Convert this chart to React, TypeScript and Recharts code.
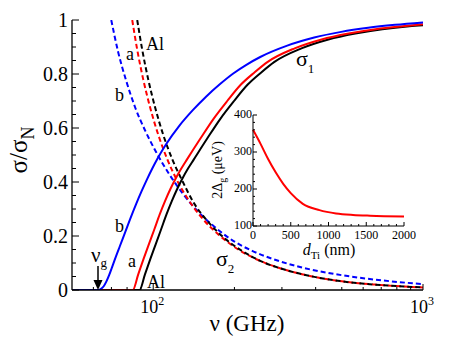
import React from "react";
import { LineChart, Line, XAxis, YAxis } from "recharts";

// sigma_1 / sigma_N (solid), frequency in GHz
const freqS1Al = [50, 89, 93.2, 97.6, 102.2, 107, 112, 117.3, 122.8, 128.6, 134.6, 141.1, 158.3, 177.6, 199.3, 223.6, 250.8, 281.4, 354.3, 446, 561.5, 706.9, 890, 1000];
const sigma1Al = [0, 0, 0.058, 0.115, 0.17, 0.225, 0.28, 0.33, 0.375, 0.415, 0.45, 0.482, 0.56, 0.635, 0.7, 0.76, 0.805, 0.845, 0.895, 0.928, 0.95, 0.966, 0.977, 0.981];

const freqS1A = [50, 84, 88, 92.1, 96.4, 101, 105.7, 110.7, 115.9, 121.4, 127.1, 133.1, 149.4, 167.6, 188.1, 211, 236.8, 265.7, 334.4, 421, 530, 667.2, 840, 1000];
const sigma1A = [0, 0, 0.058, 0.115, 0.17, 0.225, 0.28, 0.33, 0.375, 0.415, 0.45, 0.482, 0.56, 0.635, 0.7, 0.76, 0.805, 0.845, 0.895, 0.928, 0.95, 0.966, 0.977, 0.984];

const freqS1B = [50, 62.6, 64.06, 65.55, 67.08, 68.64, 70.24, 71.87, 75.26, 78.81, 82.52, 86.41, 90.48, 94.74, 99.21, 103.9, 111.3, 124.9, 140.2, 157.3, 176.5, 198, 222.2, 249.3, 313.9, 395.1, 497.4, 626.2, 788.3, 1000];
const sigma1B = [0, 0, 0.004, 0.014, 0.032, 0.055, 0.082, 0.11, 0.163, 0.215, 0.268, 0.318, 0.365, 0.409, 0.45, 0.488, 0.538, 0.608, 0.666, 0.717, 0.762, 0.802, 0.835, 0.863, 0.905, 0.935, 0.956, 0.971, 0.982, 0.991];

// sigma_2 / sigma_N (dashed)
const freqS2Al = [87.24, 91.05, 95.83, 101.72, 108.9, 117.6, 128.1, 141.9, 159.9, 183.2, 213.3, 253, 308.2, 380.9, 492.6, 663.8, 1000];
const sigma2Al = [1, 0.89, 0.78, 0.675, 0.575, 0.485, 0.405, 0.32, 0.252, 0.193, 0.145, 0.105, 0.075, 0.052, 0.033, 0.02, 0.0095];

const freqS2A = [83.6, 87.24, 91.83, 97.47, 104.4, 112.7, 122.7, 135.9, 153.1, 175.6, 206.6, 253, 308.2, 380.9, 492.6, 663.8, 1000];
const sigma2A = [1, 0.89, 0.78, 0.675, 0.575, 0.485, 0.405, 0.33, 0.262, 0.203, 0.15, 0.105, 0.075, 0.052, 0.033, 0.02, 0.0095];

const freqS2B = [69.9, 74.2, 79.4, 85.8, 93.4, 102.6, 113.6, 128.1, 146.8, 168.2, 196, 232.6, 283, 350, 452.3, 609, 820.2, 1000];
const sigma2B = [1, 0.88, 0.775, 0.675, 0.59, 0.51, 0.435, 0.36, 0.29, 0.235, 0.185, 0.145, 0.112, 0.085, 0.062, 0.043, 0.029, 0.022];

// inset: 2*Delta_g (ueV) vs d_Ti (nm)
const dTi = [0, 100, 200, 300, 400, 500, 660, 880, 1100, 1325, 1550, 2000];
const gap2 = [360, 322, 281, 245, 214, 189, 160, 143, 134, 130, 128, 126];

// ticks
const xTicks = [60, 70, 80, 90, 100, 200, 300, 400, 500, 600, 700, 800, 900, 1000];
const xLabels: Record<number, string> = { 100: "2", 1000: "3" };
const yTicks = [0, 0.05, 0.1, 0.15, 0.2, 0.25, 0.3, 0.35, 0.4, 0.45, 0.5, 0.55, 0.6, 0.65, 0.7, 0.75, 0.8, 0.85, 0.9, 0.95, 1];
const yLabels = ["0", "0.2", "0.4", "0.6", "0.8", "1"];
const insetXTicks = [0, 100, 200, 300, 400, 500, 600, 700, 800, 900, 1000, 1100, 1200, 1300, 1400, 1500, 1600, 1700, 1800, 1900, 2000];
const insetXLabels = ["0", "500", "1000", "1500", "2000"];
const insetYTicks = [100, 120, 140, 160, 180, 200, 220, 240, 260, 280, 300, 320, 340, 360, 380, 400];
const insetYLabels = ["100", "200", "300", "400"];

const zip = (xs: number[], ys: number[]) => xs.map((f, i) => ({ f, v: ys[i] }));

const FONT = "'Liberation Serif', 'DejaVu Serif', serif";
const TXT = { fontFamily: FONT };
const BLUE = "#0000ff";
const RED = "#ff0000";
const GREY = "#808080";

// main plot box (page px)
const L = 72, R = 423, T = 20, B = 290;
// inset chart placement and its plot box (local px)
const IX = 200, IY = 100, IW = 220, IH = 170;
const IL = 53, IT = 15, IR = 204, IB = 126;

const yLabel = (v: number) => {
  const s = String(Math.round(v * 10) / 10);
  return Math.abs(v * 5 - Math.round(v * 5)) < 1e-6 && yLabels.includes(s) ? s : null;
};

function BottomTick(props: any) {
  const { x, payload } = props;
  const sup = xLabels[payload.value];
  return (
    <g>
      <line x1={x} x2={x} y1={B} y2={B - (sup ? 6 : 3)} stroke="#000" />
      {sup && (
        <text x={x - 1} y={313} textAnchor="middle" fontSize={18} style={TXT} fill="#000">
          10<tspan fontSize={12} dy={-8}>{sup}</tspan>
        </text>
      )}
    </g>
  );
}

function TopTick(props: any) {
  const { x, payload } = props;
  return <line x1={x} x2={x} y1={T} y2={T + (xLabels[payload.value] ? 6 : 3)} stroke={GREY} />;
}

function LeftTick(props: any) {
  const { y, payload } = props;
  const lab = yLabel(payload.value);
  return (
    <g>
      <line x1={L} x2={L + (lab ? 7 : 4)} y1={y} y2={y} stroke="#000" />
      {lab && (
        <text x={68} y={y} textAnchor="end" dominantBaseline="central" fontSize={20} style={TXT} fill="#000">
          {lab}
        </text>
      )}
    </g>
  );
}

function RightTick(props: any) {
  const { y, payload } = props;
  return <line x1={R} x2={R - (yLabel(payload.value) ? 7 : 4)} y1={y} y2={y} stroke={GREY} />;
}

function InsetBottomTick(props: any) {
  const { x, payload } = props;
  const label = insetXLabels.includes(String(payload.value));
  return (
    <g>
      <line x1={x} x2={x} y1={IB} y2={IB - (label ? 4 : 2)} stroke="#000" />
      {label && (
        <text x={x} y={IB + 13} textAnchor="middle" fontSize={12} style={TXT} fill="#000">
          {payload.value}
        </text>
      )}
    </g>
  );
}

function InsetTopTick(props: any) {
  const { x, payload } = props;
  const label = insetXLabels.includes(String(payload.value));
  return <line x1={x} x2={x} y1={IT} y2={IT + (label ? 4 : 2)} stroke={GREY} />;
}

function InsetLeftTick(props: any) {
  const { y, payload } = props;
  const label = insetYLabels.includes(String(payload.value));
  return (
    <g>
      <line x1={IL} x2={IL + (label ? 4 : 2)} y1={y} y2={y} stroke="#000" />
      {label && (
        <text x={IL - 1} y={y - 1} textAnchor="end" dominantBaseline="central" fontSize={12} style={TXT} fill="#000">
          {payload.value}
        </text>
      )}
    </g>
  );
}

function InsetRightTick(props: any) {
  const { y, payload } = props;
  const label = insetYLabels.includes(String(payload.value));
  return <line x1={IR} x2={IR - (label ? 4 : 2)} y1={y} y2={y} stroke={GREY} />;
}

export default function App() {
  const solid = [
    { data: zip(freqS1Al, sigma1Al), color: "#000" },
    { data: zip(freqS1A, sigma1A), color: RED },
    { data: zip(freqS1B, sigma1B), color: BLUE },
  ];
  const dashed = [
    { data: zip(freqS2B, sigma2B), color: BLUE },
    { data: zip(freqS2A, sigma2A), color: RED },
    { data: zip(freqS2Al, sigma2Al), color: "#000" },
  ];
  const insetData = zip(dTi, gap2);

  return (
    <div style={{ position: "absolute", left: 0, top: 0, width: 469, height: 348, background: "#fff", fontFamily: FONT }}>
      <LineChart width={469} height={348} margin={{ top: T, right: 469 - R, bottom: 0, left: 0 }}>
        <XAxis
          dataKey="f"
          type="number"
          scale="log"
          domain={[50, 1000]}
          allowDataOverflow
          ticks={xTicks}
          interval={0}
          height={348 - B}
          tick={<BottomTick />}
          tickLine={false}
          axisLine={{ stroke: "#000", strokeWidth: 1.3 }}
        />
        <XAxis
          xAxisId="top"
          orientation="top"
          dataKey="f"
          type="number"
          scale="log"
          domain={[50, 1000]}
          allowDataOverflow
          ticks={xTicks}
          interval={0}
          height={0}
          tick={<TopTick />}
          tickLine={false}
          axisLine={{ stroke: GREY, strokeWidth: 1.5 }}
        />
        <YAxis
          type="number"
          domain={[0, 1]}
          allowDataOverflow
          ticks={yTicks}
          interval={0}
          width={L}
          tick={<LeftTick />}
          tickLine={false}
          axisLine={{ stroke: "#000", strokeWidth: 1.3 }}
        />
        <YAxis
          yAxisId="right"
          orientation="right"
          type="number"
          domain={[0, 1]}
          ticks={yTicks}
          interval={0}
          width={0}
          tick={<RightTick />}
          tickLine={false}
          axisLine={{ stroke: GREY, strokeWidth: 1.3 }}
        />
        {dashed.map((s, i) => (
          <Line
            key={"d" + i}
            data={s.data}
            dataKey="v"
            type="monotone"
            stroke={s.color}
            strokeWidth={2}
            strokeDasharray="5 3"
            dot={false}
            isAnimationActive={false}
          />
        ))}
        {solid.map((s, i) => (
          <Line
            key={"s" + i}
            data={s.data}
            dataKey="v"
            type="monotone"
            stroke={s.color}
            strokeWidth={2}
            dot={false}
            isAnimationActive={false}
          />
        ))}
      </LineChart>

      <div style={{ position: "absolute", left: IX, top: IY }}>
        <LineChart width={IW} height={IH} data={insetData} margin={{ top: IT, right: IW - IR, bottom: 0, left: 0 }}>
          <XAxis
            dataKey="f"
            type="number"
            domain={[0, 2000]}
            ticks={insetXTicks}
            interval={0}
            height={IH - IB}
            tick={<InsetBottomTick />}
            tickLine={false}
            axisLine={{ stroke: "#000" }}
          />
          <XAxis
            xAxisId="top"
            orientation="top"
            dataKey="f"
            type="number"
            domain={[0, 2000]}
            ticks={insetXTicks}
            interval={0}
            height={0}
            tick={<InsetTopTick />}
            tickLine={false}
            axisLine={{ stroke: GREY }}
          />
          <YAxis
            type="number"
            domain={[100, 400]}
            ticks={insetYTicks}
            interval={0}
            width={IL}
            tick={<InsetLeftTick />}
            tickLine={false}
            axisLine={{ stroke: "#000" }}
          />
          <YAxis
            yAxisId="right"
            orientation="right"
            type="number"
            domain={[100, 400]}
            ticks={insetYTicks}
            interval={0}
            width={0}
            tick={<InsetRightTick />}
            tickLine={false}
            axisLine={{ stroke: GREY }}
          />
          <Line dataKey="v" type="monotone" stroke={RED} strokeWidth={2} dot={false} isAnimationActive={false} />
        </LineChart>
      </div>

      <svg width={469} height={348} style={{ position: "absolute", left: 0, top: 0, pointerEvents: "none", fontFamily: FONT }}>
        <text transform="translate(27,150) rotate(-90)" textAnchor="middle" fontSize={25} style={TXT}>
          σ/σ<tspan fontSize={18} dy={7}>N</tspan>
        </text>
        <text x={247} y={331} textAnchor="middle" fontSize={23} style={TXT}>ν (GHz)</text>

        <text x={146} y={50} fontSize={18} style={TXT}>Al</text>
        <text x={126} y={60} fontSize={18} style={TXT}>a</text>
        <text x={115} y={101} fontSize={18} style={TXT}>b</text>
        <text x={115} y={232} fontSize={18} style={TXT}>b</text>
        <text x={128} y={267} fontSize={18} style={TXT}>a</text>
        <text x={147} y={288} fontSize={18} style={TXT}>Al</text>

        <text x={91} y={262} fontSize={21} style={TXT}>ν<tspan fontSize={13} dy={5}>g</tspan></text>
        <line x1={98} x2={98} y1={266} y2={282} stroke="#000" strokeWidth={1.5} />
        <polygon points="93.5,280 102.5,280 98,290" fill="#000" />

        <text x={296} y={66} fontSize={22} style={TXT}>σ<tspan fontSize={13} dy={7}>1</tspan></text>
        <text x={216} y={266} fontSize={22} style={TXT}>σ<tspan fontSize={13} dy={7}>2</tspan></text>

        <text transform="translate(222,170) rotate(-90)" textAnchor="middle" fontSize={14} style={TXT}>
          2Δ<tspan fontSize={10} dy={4}>g</tspan><tspan dy={-4}> (μeV)</tspan>
        </text>
        <text x={329} y={255} textAnchor="middle" fontSize={16} style={TXT}>
          <tspan fontStyle="italic">d</tspan><tspan fontSize={11} dy={4}>Ti</tspan><tspan dy={-4}> (nm)</tspan>
        </text>
      </svg>
    </div>
  );
}
